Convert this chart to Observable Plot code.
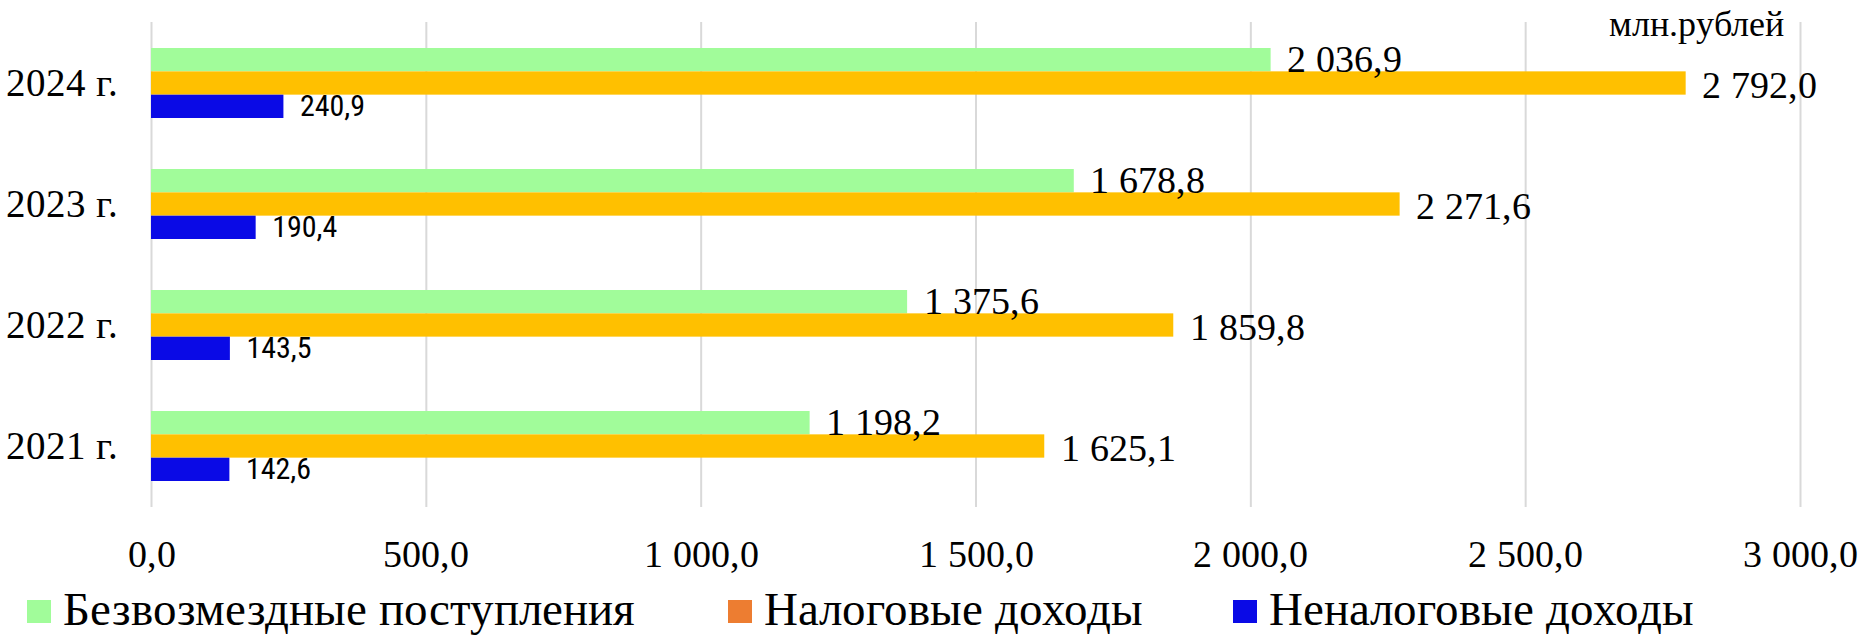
<!DOCTYPE html>
<html>
<head>
<meta charset="utf-8">
<script src="https://cdn.jsdelivr.net/npm/d3@7"></script>
<script src="https://cdn.jsdelivr.net/npm/@observablehq/plot@0.6"></script>
<style>
  @font-face { font-family: "ChartSerif"; src: local("Liberation Serif"), local("LiberationSerif"), local("LiberationSerif-Regular"), local("Tinos"), local("Times New Roman"); }
  body { margin: 0; padding: 0; background: #fff; }
  #wrap { position: relative; width: 1863px; }
  #chart { width: 1863px; font-family: ChartSerif, 'Liberation Serif', serif; }
  #chart svg text { font-family: ChartSerif, 'Liberation Serif', serif; }
  #chart svg g.nontax text { font-family: 'Roboto Condensed', sans-serif; }
  .unit { position: absolute; right: 79px; top: 6px; font-size: 36px; line-height: 36px; color: #000;
          font-family: ChartSerif, 'Liberation Serif', serif; }
  .legend { display: flex; align-items: center; height: 57px; padding-left: 27px;
            font-family: ChartSerif, 'Liberation Serif', serif; font-size: 47px; color: #000; }
  .legend .item { display: flex; align-items: center; flex: none; white-space: nowrap; }
  .legend .i0 { width: 701px; }
  .legend .i1 { width: 505px; }
  .legend .sw { width: 24px; height: 23px; margin-right: 12px; margin-top: 6px; flex: none; }
</style>
</head>
<body>
<div id="wrap">
  <div id="chart"></div>
  <div class="unit">млн.рублей</div>
  <div class="legend">
    <div class="item i0"><span class="sw" style="background:#a1fc9a"></span><span>Безвозмездные поступления</span></div>
    <div class="item i1"><span class="sw" style="background:#ed7d31"></span><span>Налоговые доходы</span></div>
    <div class="item i2"><span class="sw" style="background:#0a0ae6"></span><span>Неналоговые доходы</span></div>
  </div>
</div>
<script>
const years = ["2021 г.", "2022 г.", "2023 г.", "2024 г."];
const grants = [1198.2, 1375.6, 1678.8, 2036.9];   // Безвозмездные поступления
const tax = [1625.1, 1859.8, 2271.6, 2792.0];      // Налоговые доходы
const nontax = [142.6, 143.5, 190.4, 240.9];       // Неналоговые доходы
const xTicks = [0, 500, 1000, 1500, 2000, 2500, 3000];
const barColors = ["#a1fc9a", "#ffc000", "#0a0ae6"];

const ru = d3.formatLocale({decimal: ",", thousands: " ", grouping: [3], currency: ["", ""]});
const fmt = ru.format(",.1f");

const rows = [];
years.forEach((y, i) => {
  rows.push({year: y, series: 0, value: grants[i]});
  rows.push({year: y, series: 1, value: tax[i]});
  rows.push({year: y, series: 2, value: nontax[i]});
});

const sub = 23.35;

const chart = Plot.plot({
  width: 1863,
  height: 580,
  marginTop: 22,
  marginBottom: 73,
  marginLeft: 151,
  marginRight: 63,
  style: {fontSize: "38px", color: "#000", background: "#fff"},
  x: {domain: [0, 3000], label: null},
  y: {domain: years.slice().reverse(), paddingInner: 0.423, paddingOuter: 0.2115, label: null},
  marks: [
    Plot.ruleX(xTicks, {stroke: "#d9d9d9", strokeWidth: 2}),
    Plot.axisX({ticks: xTicks, tickFormat: fmt, tickSize: 0, tickPadding: 33, fontSize: 38, label: null}),
    Plot.axisY({tickSize: 0, tickPadding: 34, fontSize: 39, label: null}),
    Plot.barX(rows, {filter: d => d.series === 0, x: "value", y: "year", fill: barColors[0], insetBottom: 2 * sub}),
    Plot.barX(rows, {filter: d => d.series === 1, x: "value", y: "year", fill: barColors[1], insetTop: sub, insetBottom: sub}),
    Plot.barX(rows, {filter: d => d.series === 2, x: "value", y: "year", fill: barColors[2], insetTop: 2 * sub}),
    Plot.text(rows, {filter: d => d.series === 0, x: "value", y: "year", text: d => fmt(d.value), dx: 16, dy: -sub, textAnchor: "start", fontSize: 38, fill: "#000"}),
    Plot.text(rows, {filter: d => d.series === 1, x: "value", y: "year", text: d => fmt(d.value), dx: 16, dy: 2, textAnchor: "start", fontSize: 38, fill: "#000"}),
    Plot.text(rows, {filter: d => d.series === 2, x: "value", y: "year", text: d => fmt(d.value), dx: 16, dy: sub, textAnchor: "start", fontSize: 30, fontFamily: "'Roboto Condensed', sans-serif", className: "nontax", fill: "#000"})
  ]
});
document.getElementById("chart").appendChild(chart);
</script>
</body>
</html>
